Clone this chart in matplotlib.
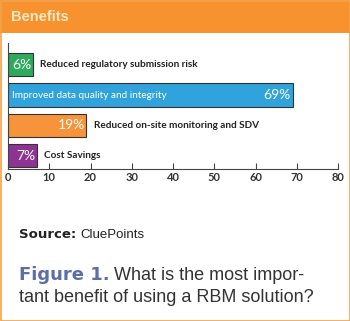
import matplotlib
matplotlib.use("Agg")
import matplotlib.pyplot as plt
from matplotlib.patches import Rectangle

# data
categories = ["Reduced regulatory submission risk",
              "Improved data quality and integrity",
              "Reduced on-site monitoring and SDV",
              "Cost Savings"]
values = [6, 69, 19, 7]
colors = ["#2eaa5f", "#30a3dc", "#f7943b", "#8e3393"]
ticks = [0, 10, 20, 30, 40, 50, 60, 70, 80]

W, H = 350, 321
fig = plt.figure(figsize=(W / 100, H / 100), dpi=100)
fig.patch.set_facecolor("white")

# header band
fig.patches.append(Rectangle((0, 1 - 33 / H), 1, 33 / H, transform=fig.transFigure,
                             facecolor="#f7922f", edgecolor="none", zorder=0))
fig.text(11 / W, 1 - 17 / H, "Benefits", fontsize=10.5, fontweight="bold",
         color="#fde9c6", va="center", ha="left", family="Liberation Sans")
# outer border
fig.patches.append(Rectangle((0.5 / W, 0.5 / H), 1 - 1 / W, 1 - 1 / H, transform=fig.transFigure,
                             facecolor="none", edgecolor="#f3a24a", lw=1.2, zorder=5))

ax = fig.add_axes([8 / W, 1 - 169 / H, 330 / W, (169 - 43) / H])
ypos = list(range(len(values)))
ax.barh(ypos, values, height=0.76, color=colors, edgecolor="#333333", linewidth=0.8)
ax.set_ylim(3.43, -0.71)
ax.set_xlim(0, 80)

for spine in ["top", "right"]:
    ax.spines[spine].set_visible(False)
ax.spines["left"].set_color("#444444")
ax.spines["bottom"].set_color("#444444")
ax.spines["left"].set_linewidth(0.8)
ax.spines["bottom"].set_linewidth(0.8)
ax.set_yticks([])
ax.set_xticks(ticks)
ax.set_xticklabels([str(t) for t in ticks], fontsize=8, fontweight="bold",
                   color="#333333", family="Lato")
ax.tick_params(axis="x", direction="in", length=4, width=0.8, color="#444444", pad=2)
ax.set_facecolor("none")

lab_font = dict(family="Lato", fontsize=7.2)
pct_font = dict(family="Lato", fontsize=10, color="white")

for i, (cat, v) in enumerate(zip(categories, values)):
    if v > 40:
        ax.text(0.9, i, cat, color="white", va="center", ha="left", **lab_font)
        ax.text(v - 0.4, i, f"{v}%", va="center", ha="right", **pct_font)
    else:
        ax.text(v - 0.3, i, f"{v}%", va="center", ha="right", **pct_font)
        ax.text(v + 1.8, i, cat, color="#222222", va="center", ha="left",
                fontweight="bold", **lab_font)

# source line
fig.canvas.draw()
r = fig.canvas.get_renderer()
t1 = fig.text(19 / W, 1 - 235 / H, "Source:", fontsize=9.5, fontweight="heavy",
              color="#222222", va="center", ha="left", family="DejaVu Sans")
bb = t1.get_window_extent(r)
fig.text(bb.x1 / W + 4 / W, 1 - 235 / H, "CluePoints", fontsize=9.5,
         color="#222222", va="center", ha="left", family="Liberation Sans")

# caption
t2 = fig.text(19 / W, 1 - 275 / H, "Figure 1.", fontsize=13, fontweight="bold",
              color="#5b6fa6", va="center", ha="left", family="DejaVu Sans")
bb = t2.get_window_extent(r)
fig.text(bb.x1 / W + 4 / W, 1 - 275 / H, "What is the most impor-", fontsize=13,
         color="#333333", va="center", ha="left", family="Liberation Sans")
fig.text(19 / W, 1 - 298 / H, "tant benefit of using a RBM solution?", fontsize=13,
         color="#333333", va="center", ha="left", family="Liberation Sans")

fig.savefig("out.png", dpi=100)
